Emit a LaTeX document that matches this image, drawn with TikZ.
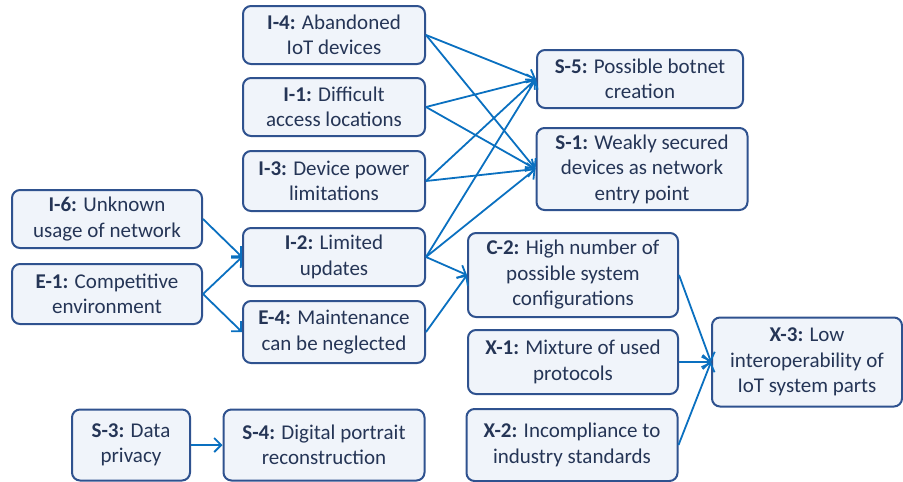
\documentclass[tikz,border=0pt]{standalone}
\usepackage{fontspec}
\setmainfont{Carlito}
\usetikzlibrary{arrows.meta}
\definecolor{boxborder}{HTML}{2F528F}
\definecolor{boxfill}{HTML}{F0F4FA}
\definecolor{arrowblue}{HTML}{0A70C0}
\definecolor{txt}{HTML}{253556}
\tikzset{
 factor/.style={draw=boxborder, fill=boxfill, line width=2pt, rounded corners=8pt, text=txt,
   font=\fontsize{21}{25.5}\selectfont, align=center, inner sep=0pt},
 link/.style={draw=arrowblue, line width=1.8pt, -{Straight Barb[length=7pt,width=14pt]}}
}
\begin{document}
\begin{tikzpicture}[x=1pt,y=-1pt]
\useasboundingbox (0,0) rectangle (903,482);
\node[factor, minimum width=182pt, minimum height=58pt] (i4) at (334,35) {\textbf{I-4:} Abandoned\\IoT devices};
\node[factor, minimum width=182pt, minimum height=58pt] (i1) at (334,107) {\textbf{I-1:} Difficult\\access locations};
\node[factor, minimum width=182pt, minimum height=60pt] (i3) at (334,181) {\textbf{I-3:} Device power\\limitations};
\node[factor, minimum width=182pt, minimum height=58pt] (i2) at (334,257) {\textbf{I-2:} Limited\\updates};
\node[factor, minimum width=182pt, minimum height=62pt] (e4) at (334,332) {\textbf{E-4:} Maintenance\\can be neglected};
\node[factor, minimum width=190pt, minimum height=58pt] (i6) at (107,219) {\textbf{I-6:} Unknown\\usage of network};
\node[factor, minimum width=190pt, minimum height=60pt] (e1) at (107,294) {\textbf{E-1:} Competitive\\environment};
\node[factor, minimum width=118pt, minimum height=71pt] (s3) at (131,445) {\textbf{S-3:} Data\\privacy};
\node[factor, minimum width=201pt, minimum height=71pt] (s4) at (324,445) {\textbf{S-4:} Digital portrait\\reconstruction};
\node[factor, minimum width=206pt, minimum height=58pt] (s5) at (640,79) {\textbf{S-5:} Possible botnet\\creation};
\node[factor, minimum width=211pt, minimum height=82pt] (s1) at (642,169) {\textbf{S-1:} Weakly secured\\devices as network\\entry point};
\node[factor, minimum width=210pt, minimum height=84pt] (c2) at (573,275) {\textbf{C-2:} High number of\\possible system\\configurations};
\node[factor, minimum width=210pt, minimum height=64pt] (x1) at (573,362) {\textbf{X-1:} Mixture of used\\protocols};
\node[factor, minimum width=211pt, minimum height=72pt] (x2) at (572,445) {\textbf{X-2:} Incompliance to\\industry standards};
\node[factor, minimum width=190pt, minimum height=89pt] (x3) at (807,362) {\textbf{X-3:} Low\\interoperability of\\IoT system parts};
\foreach \a in {i4,i1,i3,i2}{
  \draw[link] (\a.east) -- (s5.west);
  \draw[link] (\a.east) -- (s1.west);
}
\draw[link] (i2.east) -- (c2.west);
\draw[link] (e4.east) -- (c2.west);
\draw[link] (i6.east) -- (i2.west);
\draw[link] (e1.east) -- (i2.west);
\draw[link] (e1.east) -- (e4.west);
\draw[link] (s3.east) -- (s4.west);
\draw[link] (c2.east) -- (x3.west);
\draw[link] (x1.east) -- (x3.west);
\draw[link] (x2.east) -- (x3.west);
\end{tikzpicture}
\end{document}
